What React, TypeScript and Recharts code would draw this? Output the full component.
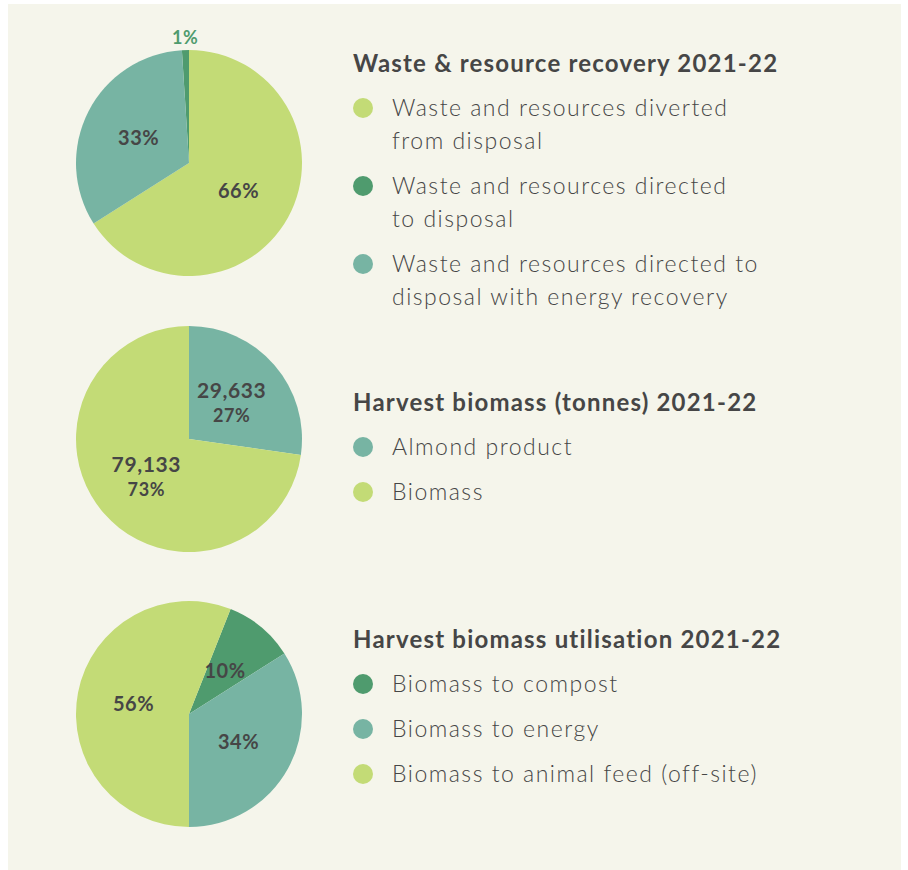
import { PieChart, Pie, Cell } from 'recharts'

const LIGHT = '#c3db76'
const TEAL = '#77b4a3'
const DARK = '#4f9b6e'
const INK = '#464646'
const FONT = 'Lato, "Open Sans", sans-serif'

// Waste & resource recovery (legend order)
const wasteNames = [
  'Waste and resources diverted\nfrom disposal',
  'Waste and resources directed\nto disposal',
  'Waste and resources directed to\ndisposal with energy recovery',
]
const wasteShares = [66, 1, 33]
const wasteColors = [LIGHT, DARK, TEAL]

// Harvest biomass (tonnes)
const harvestNames = ['Almond product', 'Biomass']
const harvestTonnes = [29633, 79133]
const harvestColors = [TEAL, LIGHT]

// Harvest biomass utilisation
const useNames = ['Biomass to compost', 'Biomass to energy', 'Biomass to animal feed (off-site)']
const useShares = [10, 34, 56]
const useColors = [DARK, TEAL, LIGHT]

const RAD = Math.PI / 180
const PAD_TOP = 20

type Kind = 'pct' | 'tonnes'

function makeLabel(kind: Kind, colors: string[]) {
  return (p: any) => {
    const { cx, cy, midAngle, outerRadius, percent, value, index } = p
    const small = percent < 0.03
    const r = small ? outerRadius + 13 : outerRadius * 0.5
    const x = cx + r * Math.cos(-midAngle * RAD)
    const y = cy + r * Math.sin(-midAngle * RAD)

    if (kind === 'tonnes') {
      return (
        <text x={x} y={y} textAnchor="middle" fill={INK} fontFamily={FONT} fontWeight={700} letterSpacing={0.6}>
          <tspan x={x} dy={-4} fontSize={21}>{value.toLocaleString('en-US')}</tspan>
          <tspan x={x} dy={24} fontSize={18}>{Math.round(percent * 100)}%</tspan>
        </text>
      )
    }
    return (
      <text
        x={x}
        y={y}
        textAnchor="middle"
        dominantBaseline="central"
        fill={small ? colors[index] : INK}
        fontFamily={FONT}
        fontWeight={700}
        fontSize={small ? 18 : 20}
        letterSpacing={0.5}
      >
        {value}%
      </text>
    )
  }
}

interface BlockProps {
  centerY: number
  legendTop: number
  title: string
  names: string[]
  values: number[]
  colors: string[]
  kind: Kind
  startAngle: number
  endAngle: number
}

function PieBlock({ centerY, legendTop, title, names, values, colors, kind, startAngle, endAngle }: BlockProps) {
  const data = names.map((n, i) => ({ name: n, value: values[i] }))

  return (
    <>
      <div style={{ position: 'absolute', left: 59, top: centerY - 130 - PAD_TOP }}>
        <PieChart width={260} height={260 + PAD_TOP} margin={{ top: PAD_TOP, right: 0, bottom: 0, left: 0 }}>
          <Pie
            data={data}
            dataKey="value"
            cx="50%"
            cy="50%"
            outerRadius={113}
            startAngle={startAngle}
            endAngle={endAngle}
            stroke="none"
            labelLine={false}
            label={makeLabel(kind, colors)}
            isAnimationActive={false}
          >
            {data.map((d, i) => (
              <Cell key={d.name} fill={colors[i]} />
            ))}
          </Pie>
        </PieChart>
      </div>

      <div style={{ position: 'absolute', left: 353, top: legendTop, fontFamily: FONT, color: INK }}>
        <div style={{ fontSize: 24, fontWeight: 700, lineHeight: '30px', letterSpacing: 1.2, marginBottom: 13 }}>
          {title}
        </div>
        {names.map((n, i) => (
          <div key={n} style={{ display: 'flex', alignItems: 'flex-start', marginBottom: 12 }}>
            <span
              style={{
                width: 20,
                height: 20,
                borderRadius: '50%',
                background: colors[i],
                marginTop: 7,
                flexShrink: 0,
              }}
            />
            <span
              style={{
                marginLeft: 19,
                fontSize: 23,
                fontWeight: 300,
                lineHeight: '33px',
                letterSpacing: 1.5,
                whiteSpace: 'pre-line',
              }}
            >
              {n}
            </span>
          </div>
        ))}
      </div>
    </>
  )
}

export default function App() {
  return (
    <div style={{ position: 'absolute', left: 0, top: 0, width: 908, height: 870, background: '#fff' }}>
      <div style={{ position: 'absolute', left: 8, top: 4, width: 893, height: 866, background: '#f5f5eb' }}>
        <div style={{ position: 'absolute', left: -8, top: -4, width: 908, height: 870 }}>
          <PieBlock
            centerY={163}
            legendTop={48}
            title="Waste & resource recovery 2021-22"
            names={wasteNames}
            values={wasteShares}
            colors={wasteColors}
            kind="pct"
            startAngle={90 - 3.6 * wasteShares[0]}
            endAngle={450 - 3.6 * wasteShares[0]}
          />
          <PieBlock
            centerY={439}
            legendTop={387}
            title="Harvest biomass (tonnes) 2021-22"
            names={harvestNames}
            values={harvestTonnes}
            colors={harvestColors}
            kind="tonnes"
            startAngle={90}
            endAngle={-270}
          />
          <PieBlock
            centerY={714}
            legendTop={624}
            title="Harvest biomass utilisation 2021-22"
            names={useNames}
            values={useShares}
            colors={useColors}
            kind="pct"
            startAngle={68.4}
            endAngle={-291.6}
          />
        </div>
      </div>
    </div>
  )
}
